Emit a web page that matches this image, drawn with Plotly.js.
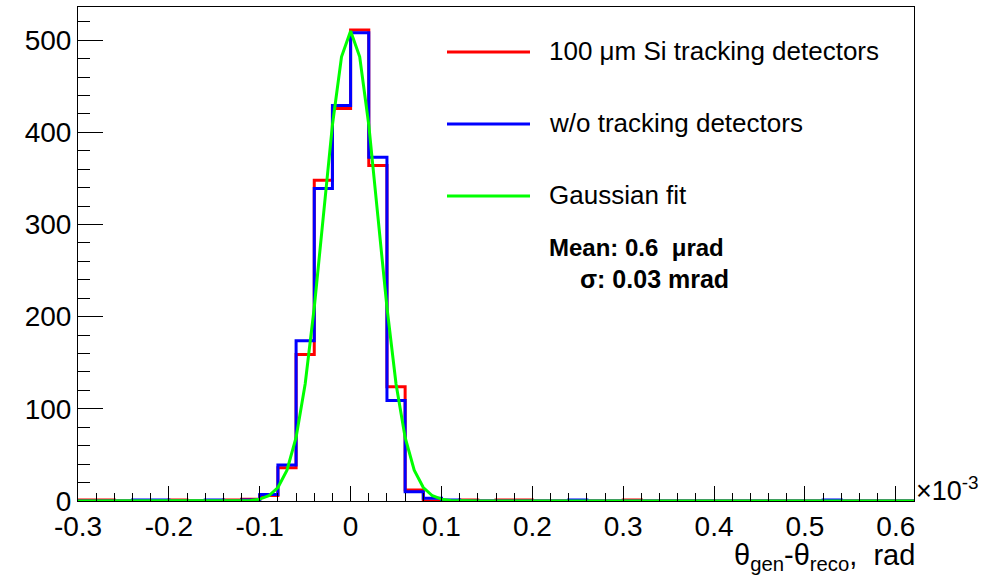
<!DOCTYPE html>
<html>
<head>
<meta charset="utf-8">
<script src="https://cdn.plot.ly/plotly-3.0.1.min.js"></script>
<style>html,body{margin:0;padding:0;background:#fff;}#chart{width:1000px;height:582px;}</style>
</head>
<body>
<div id="chart"></div>
<script>
// Histogram binning (units of 10^-3 rad)
const binLow = -0.3;
const binWidth = 0.02;
// 46 bins from -0.3 to 0.62
const withSi = [1,1,0,0,0,1,0,0,1,2, 6,36,159,348,426,511,364,124,12,0, 0,1,0,1,1,0,0,0,0,0, 1,0,0,0,0,0,0,0,0,0, 0,0,0,0,0,0];
const withoutTrk = [0,0,0,1,1,0,0,1,0,1, 7,39,174,339,429,508,373,109,10,3, 1,0,0,0,0,0,0,1,0,0, 0,0,0,0,0,0,0,0,0,0, 0,1,0,0,0,0];
// Gaussian fit curve
const fitX = [-0.3,-0.14,-0.13,-0.12,-0.11,-0.10,-0.09,-0.08,-0.07,-0.06,-0.05,-0.04,-0.03,-0.02,-0.01,0,0.01,0.02,0.03,0.04,0.05,0.06,0.07,0.08,0.09,0.10,0.11,0.12,0.13,0.14,0.62];
const fitY = [0,0,0.05,0.15,0.6,2,5.7,14.6,33.5,69,127,210,309,408,482,510,482,408,309,210,127,69,33.5,14.6,5.7,2,0.6,0.15,0.05,0,0];

const legendNames = ["100 \u03bcm Si tracking detectors", "w/o tracking detectors", "Gaussian fit"];
const legendColors = ["#ff0000", "#0000ff", "#00ff00"];
const statLines = ["Mean: 0.6 \u00a0\u03bcrad", "\u03c3: 0.03 mrad"];
const xTitle = "\u03b8<sub>gen</sub>-\u03b8<sub>reco</sub>,\u00a0\u00a0rad";
const xExponent = "\u00d710<sup>-3</sup>";

function stepXY(vals){
  const xs = [], ys = [];
  for (let i = 0; i <= vals.length; i++){
    xs.push(binLow + i*binWidth);
    ys.push(vals[Math.min(i, vals.length-1)]);
  }
  return {xs, ys};
}
const s1 = stepXY(withSi), s2 = stepXY(withoutTrk);

const traces = [
  {x:s1.xs, y:s1.ys, type:'scatter', mode:'lines', line:{shape:'hv', color:legendColors[0], width:3}, name:legendNames[0], showlegend:false},
  {x:s2.xs, y:s2.ys, type:'scatter', mode:'lines', line:{shape:'hv', color:legendColors[1], width:3}, name:legendNames[1], showlegend:false},
  {x:fitX, y:fitY, type:'scatter', mode:'lines', line:{color:legendColors[2], width:3}, name:legendNames[2], showlegend:false}
];

const L = 78, R = 914, T = 7, B = 501;
const px = v => (v - L)/(R - L);
const py = v => (B - v)/(B - T);

const legendY = [52, 124, 196];
const shapes = legendY.map((yy, i) => ({type:'line', xref:'paper', yref:'paper', x0:px(447), x1:px(530), y0:py(yy), y1:py(yy), line:{color:legendColors[i], width:3}}));
const fontFam = "Liberation Sans, Arial, Helvetica, sans-serif";
const annotations = legendY.map((yy, i) => ({xref:'paper', yref:'paper', x:px(547), y:py(yy-1), xanchor:'left', yanchor:'middle', text:legendNames[i], showarrow:false, font:{family:fontFam, size:26, color:'#000'}}));
annotations.push({xref:'paper', yref:'paper', x:px(547), y:py(247), xanchor:'left', yanchor:'middle', text:'<b>'+statLines[0]+'</b>', showarrow:false, font:{family:fontFam, size:24, color:'#000'}});
annotations.push({xref:'paper', yref:'paper', x:px(578), y:py(279), xanchor:'left', yanchor:'middle', text:'<b>'+statLines[1]+'</b>', showarrow:false, font:{family:fontFam, size:25, color:'#000'}});
annotations.push({xref:'paper', yref:'paper', x:px(917), y:py(557), xanchor:'right', yanchor:'middle', text:xTitle, showarrow:false, font:{family:fontFam, size:29, color:'#000'}});
annotations.push({xref:'paper', yref:'paper', x:px(914), y:py(489), xanchor:'left', yanchor:'middle', text:xExponent, showarrow:false, font:{family:fontFam, size:27, color:'#000'}});

const layout = {
  width:1000, height:582,
  margin:{l:L, r:1000-R, t:T, b:582-B, pad:0},
  paper_bgcolor:'#fff', plot_bgcolor:'#fff',
  showlegend:false,
  font:{family:fontFam, size:28, color:'#000'},
  xaxis:{range:[-0.3,0.62], tickvals:[-0.3,-0.2,-0.1,0,0.1,0.2,0.3,0.4,0.5,0.6], ticktext:['-0.3','-0.2','-0.1','0','0.1','0.2','0.3','0.4','0.5','0.6'],
    ticks:'inside', ticklen:15, tickwidth:1, tickcolor:'#000',
    minor:{ticks:'inside', ticklen:8, dtick:0.02, tick0:-0.3, tickcolor:'#000', tickwidth:1},
    showline:true, linecolor:'#000', linewidth:1, mirror:true, showgrid:false, zeroline:false,
    tickfont:{family:fontFam, size:28, color:'#000'}},
  yaxis:{range:[0,536], tickvals:[0,100,200,300,400,500],
    ticks:'inside', ticklen:25, tickwidth:1, tickcolor:'#000',
    minor:{ticks:'inside', ticklen:12, dtick:20, tick0:0, tickcolor:'#000', tickwidth:1},
    showline:true, linecolor:'#000', linewidth:1, mirror:true, showgrid:false, zeroline:false,
    tickfont:{family:fontFam, size:28, color:'#000'}},
  shapes:shapes,
  annotations:annotations
};
Plotly.newPlot('chart', traces, layout, {staticPlot:true, displayModeBar:false});
</script>
</body>
</html>
